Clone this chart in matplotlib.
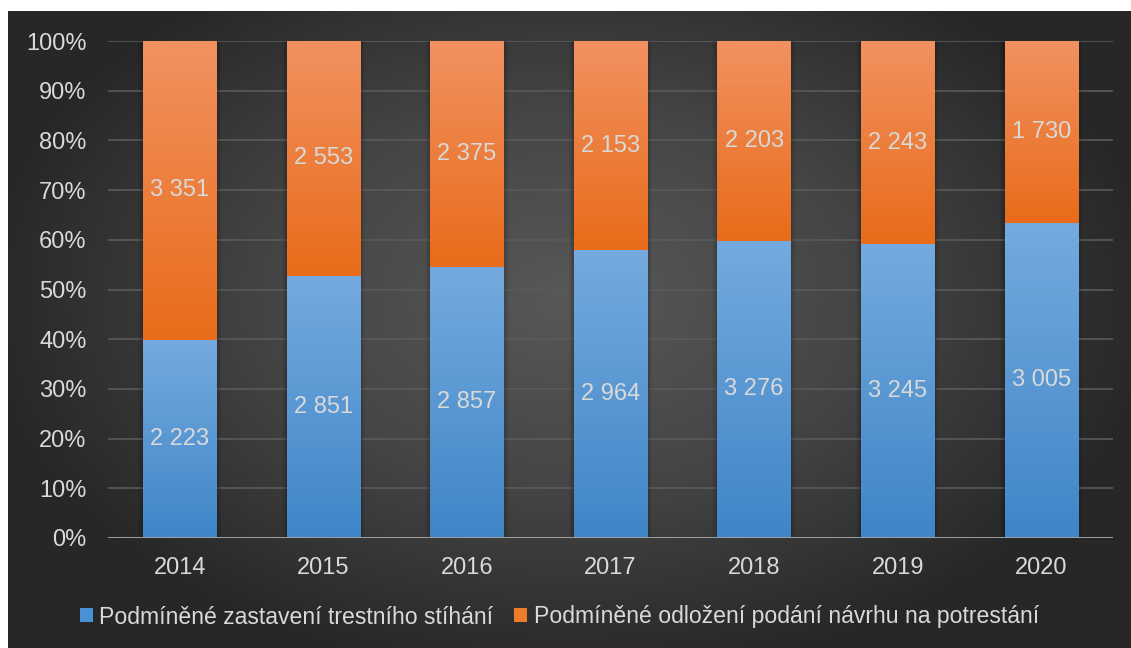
import matplotlib.pyplot as plt
import numpy as np
from matplotlib.colors import LinearSegmentedColormap
from matplotlib.patches import Rectangle

# Data
years = ['2014', '2015', '2016', '2017', '2018', '2019', '2020']
zastaveni = [2223, 2851, 2857, 2964, 3276, 3245, 3005]
odlozeni = [3351, 2553, 2375, 2153, 2203, 2243, 1730]
series_names = ['Podmíněné zastavení trestního stíhání',
                'Podmíněné odložení podání návrhu na potrestání']
yticks = np.arange(0, 1.01, 0.1)

plt.rcParams['font.family'] = ['Liberation Sans', 'DejaVu Sans']
text_col = '#d9d9d9'

fig = plt.figure(figsize=(11.31, 6.48), dpi=100, facecolor='white')

# dark radial background
bg = fig.add_axes([8 / 1131, 0, 1123 / 1131, 637 / 648], zorder=-5)
gx, gy = np.meshgrid(np.linspace(-1, 1, 400), np.linspace(-1, 1, 300))
r = np.sqrt((gx / 1.05) ** 2 + ((gy + 0.1) / 1.2) ** 2)
r = np.clip(r, 0, 1)
bg_cmap = LinearSegmentedColormap.from_list('bg', ['#585858', '#454545', '#272727'])
bg.imshow(r, cmap=bg_cmap, aspect='auto', extent=[0, 1, 0, 1], vmin=0, vmax=1)
bg.axis('off')

ax = fig.add_axes([108 / 1131, 110 / 648, 1005 / 1131, 497 / 648])
ax.set_facecolor('none')

blue_cmap = LinearSegmentedColormap.from_list('b', ['#3f86c7', '#74aadf'])
orange_cmap = LinearSegmentedColormap.from_list('o', ['#e86c1a', '#f29160'])

total = np.array(zastaveni) + np.array(odlozeni)
frac_b = np.array(zastaveni) / total
frac_o = np.array(odlozeni) / total
x = np.arange(len(years))
w = 0.51
grad = np.linspace(1, 0, 100).reshape(-1, 1)

for i in range(len(years)):
    segs = [(0, frac_b[i], blue_cmap, zastaveni[i]),
            (frac_b[i], frac_b[i] + frac_o[i], orange_cmap, odlozeni[i])]
    # soft shadow around the bar
    for k, a in [(0.035, 0.05), (0.022, 0.07), (0.011, 0.09)]:
        ax.add_patch(Rectangle((x[i] - w / 2 - k, 0), w + 2 * k, 1 + k * 0.3,
                               facecolor='black', alpha=a, edgecolor='none', zorder=1))
    for lo, hi, cm, val in segs:
        ax.imshow(grad, cmap=cm, aspect='auto', vmin=0, vmax=1,
                  extent=[x[i] - w / 2, x[i] + w / 2, lo, hi], zorder=2)
        ax.text(x[i], (lo + hi) / 2, f'{val:,}'.replace(',', ' '), ha='center', va='center',
                fontsize=17, color=text_col, zorder=3)

ax.set_xlim(-0.5, len(years) - 0.5)
ax.set_ylim(0, 1)
ax.set_yticks(yticks)
ax.set_yticklabels([f'{int(round(t * 100))}%' for t in yticks])
ax.set_xticks(x)
ax.set_xticklabels(years)
ax.tick_params(axis='both', length=0, labelsize=17, labelcolor=text_col)
ax.tick_params(axis='y', pad=15.5)
ax.tick_params(axis='x', pad=14)
for s in ax.spines.values():
    s.set_visible(False)
ax.grid(axis='y', color='#5a5a5a', linewidth=1.2, zorder=0)
ax.set_axisbelow(True)
ax.axhline(0, color='#a6a6a6', linewidth=2, zorder=4)

# legend
handles = [Rectangle((0, 0), 1, 1, facecolor='#4a90d4'),
           Rectangle((0, 0), 1, 1, facecolor='#ee7a2c')]
leg = fig.legend(handles, series_names, loc='center', bbox_to_anchor=(0.4947, 31 / 648),
                 ncol=2, frameon=False, fontsize=16.6, labelcolor=text_col,
                 handlelength=0.55, handleheight=0.55, handletextpad=0.3, columnspacing=0.9)

fig.savefig('out.png', dpi=100, facecolor='white')
